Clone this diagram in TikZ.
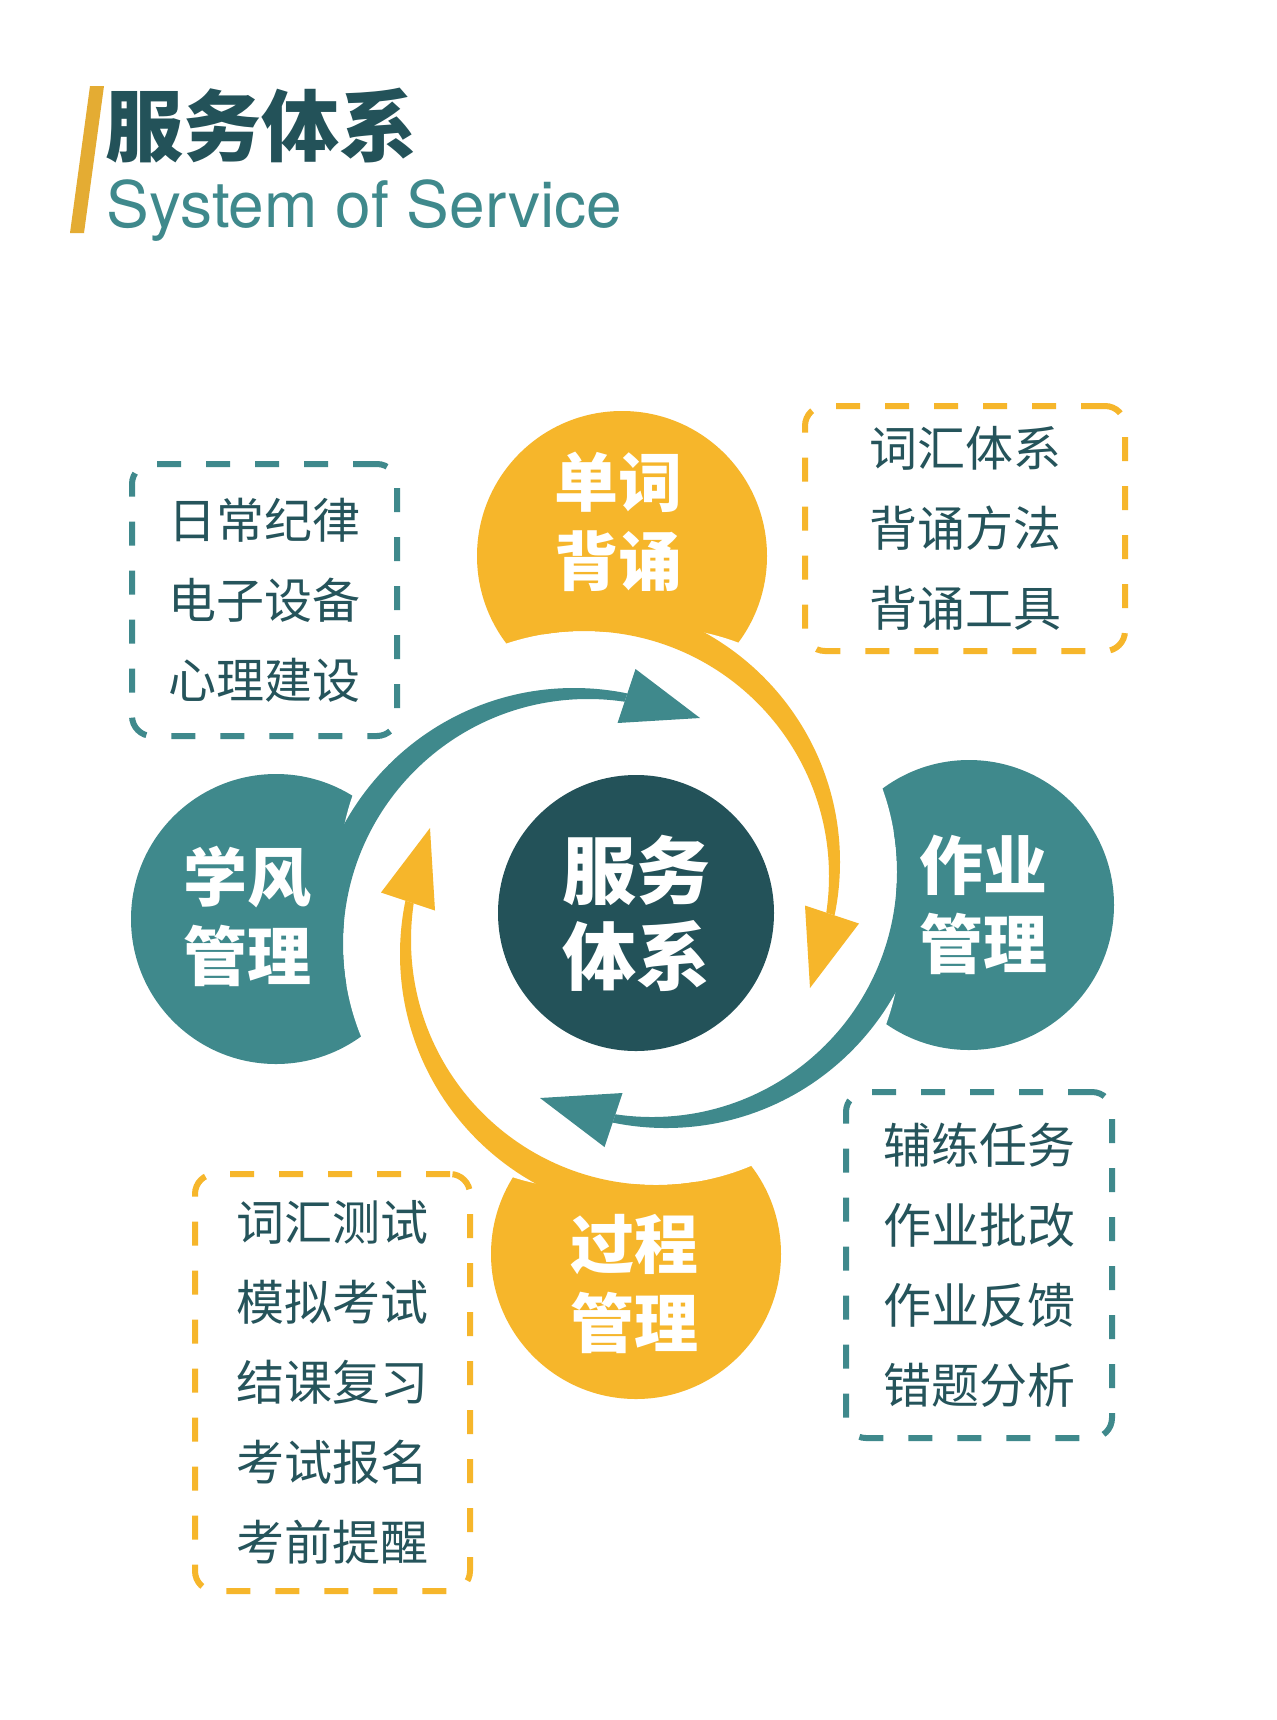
\documentclass[tikz,border=0pt]{standalone}
\usepackage{fontspec}
\setmainfont{TeX Gyre Heros}
\newfontfamily\cjk{Noto Sans CJK SC}

\definecolor{tealc}{HTML}{3F898C}
\definecolor{yelc}{HTML}{F6B62B}
\definecolor{darkc}{HTML}{235259}
\definecolor{barc}{HTML}{E4AC33}
\definecolor{listc}{HTML}{25545B}

\begin{document}
\begin{tikzpicture}[x=0.5pt, y=0.5pt,
  sattext/.style={text=white, align=center, font=\cjk\bfseries\fontsize{32pt}{39.5pt}\selectfont},
  listbox/.style={draw, line width=3pt, dash pattern=on 12pt off 12.5pt, rounded corners=10pt,
    text=listc, align=center, font=\cjk\fontsize{24pt}{40pt}\selectfont}]
  \fill[white] (0,0) rectangle (1277,-1720);
  \useasboundingbox (0,0) rectangle (1277,-1720);
  \coordinate (C) at (620,-908);

  % title
  \fill[barc] (90,-86) -- (104,-86) -- (84,-233) -- (70,-233) -- cycle;
  \node[anchor=west, inner sep=0, text=darkc, font=\cjk\bfseries\fontsize{39pt}{39pt}\selectfont] (title) at (105,-126) {服务体系};
  \node[anchor=base west, inner sep=0, text=tealc, font=\fontsize{32pt}{32pt}\selectfont] (subtitle) at (106,-227) {System of Service};

  % satellites, then the white bites, then the arrows
  \foreach \pos/\clr in {{(969,-905)}/tealc, {(636,-1254)}/yelc, {(276,-919)}/tealc, {(622,-556)}/yelc}
    \fill[\clr] \pos circle[radius=145];
  \foreach \rot in {0,-90,-180,-270}
    \fill[white, shift={(C)}, rotate=\rot] (32,36) circle[radius=245];
  \foreach \rot/\clr in {0/tealc, -90/yelc, -180/tealc, -270/yelc}{
    \begin{scope}[shift={(C)}, rotate=\rot]
      \clip (56.5,-23) -- (500,180) -- (600,-700) -- (-169,-700) -- cycle;
      \fill[\clr, even odd rule] (46,42) circle[radius=262] (32,36) circle[radius=245];
    \end{scope}
    \fill[\clr, shift={(C)}, rotate=\rot] (2.5,-185) -- (-80,-190) -- (-15.5,-239) -- cycle;
  }

  \node[circle, fill=darkc, minimum size=138pt, inner sep=0, text=white, align=center,
    font=\cjk\bfseries\fontsize{37pt}{43pt}\selectfont] (core) at (636,-913) {服务\\体系};

  \node[sattext] (vocab) at (618,-522) {单词\\背诵};
  \node[sattext] (homework) at (983,-905) {作业\\管理};
  \node[sattext] (process) at (634,-1284) {过程\\管理};
  \node[sattext] (style) at (247,-916) {学风\\管理};

  % dashed lists
  \node[listbox, draw=tealc, minimum width=132.5pt, minimum height=136pt] (discipline) at (264.5,-600) {日常纪律\\电子设备\\心理建设};
  \node[listbox, draw=yelc, minimum width=160pt, minimum height=122.5pt] (words) at (965,-528.5) {词汇体系\\背诵方法\\背诵工具};
  \node[listbox, draw=yelc, minimum width=137.5pt, minimum height=208.5pt] (exams) at (332.5,-1382.5) {词汇测试\\模拟考试\\结课复习\\考试报名\\考前提醒};
  \node[listbox, draw=tealc, minimum width=133pt, minimum height=173pt] (tasks) at (979,-1265) {辅练任务\\作业批改\\作业反馈\\错题分析};
\end{tikzpicture}
\end{document}
